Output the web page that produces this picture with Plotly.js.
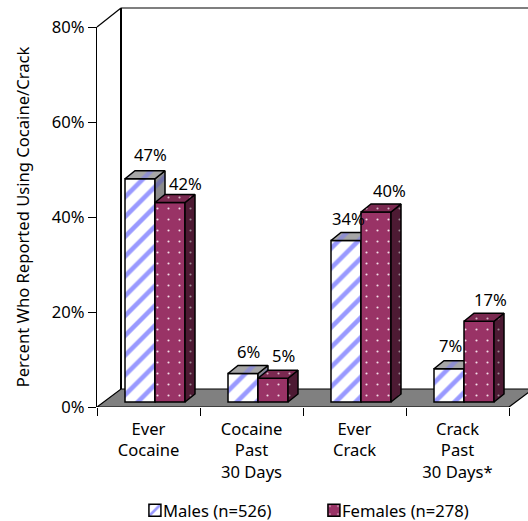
<!DOCTYPE html>
<html>
<head>
<meta charset="utf-8">
<script src="https://cdn.plot.ly/plotly-3.0.1.min.js"></script>
<style>html,body{margin:0;padding:0;background:#fff}</style>
</head>
<body>
<div id="chart" style="width:528px;height:521px"></div>
<script>
var categories = ['Ever<br>Cocaine', 'Cocaine<br>Past<br>30 Days', 'Ever<br>Crack', 'Crack<br>Past<br>30 Days*'];
var malesValues = [47, 6, 34, 7];
var femalesValues = [42, 5, 40, 17];
var yTicks = [0, 20, 40, 60, 80];
var yTickText = ['0%', '20%', '40%', '60%', '80%'];
var malesName = 'Males (n=526)';
var femalesName = 'Females (n=278)';
var yTitle = 'Percent Who Reported Using Cocaine/Crack';

// label nudges in screen pixels
var malesLabelDx = [10, 5, 2, 1];
var malesLabelDy = [-24, -22, -22, -23];
var femalesLabelDx = [15, 10, 13, 11];
var femalesLabelDy = [-19, -23, -22, -22];

// layout geometry
var W = 528, H = 521, L = 97, T = 27, FRONT = 407;
var unitX = 103, unitY = 4.75;
var plotW = W - L, plotH = FRONT - T;
var xMax = plotW / unitX;
var wallDX = 24 / unitX, wallDY = 18 / unitY;
var barW = 30 / unitX;
var barDX = 10 / unitX, barDY = 8 / unitY;
var barBase = 5 / unitY, pairShift = 6.5 / unitX;
var font = 'Noto Sans, Tahoma, sans-serif';
var fs = 16.6;

function faces(values, centerOffset) {
  var side = {x: [], y: []}, top = {x: [], y: []};
  values.forEach(function (v, i) {
    var x1 = i + 0.5 + pairShift + centerOffset - barW / 2, x2 = x1 + barW;
    var y1 = barBase, y2 = barBase + v;
    side.x.push(x2, x2 + barDX, x2 + barDX, x2, x2, null);
    side.y.push(y1, y1 + barDY, y2 + barDY, y2, y1, null);
    top.x.push(x1, x2, x2 + barDX, x1 + barDX, x1, null);
    top.y.push(y2, y2, y2 + barDY, y2 + barDY, y2, null);
  });
  return {side: side, top: top};
}
function poly(p, bg, fg, xa, ya, size, solidity, shape) {
  return {type: 'scatter', mode: 'lines', x: p.x, y: p.y, xaxis: xa, yaxis: ya,
    fill: 'toself', fillcolor: bg,
    fillpattern: {shape: shape, bgcolor: bg, fgcolor: fg, size: size, solidity: solidity},
    line: {color: '#000', width: 1.5}, showlegend: false, hoverinfo: 'skip'};
}
var mF = faces(malesValues, -barW / 2), fF = faces(femalesValues, barW / 2);
var idx = categories.map(function (c, i) { return i; });

var floor = {type: 'scatter', mode: 'lines',
  x: [0, 4, 4 + wallDX, wallDX, 0], y: [0, 0, wallDY, wallDY, 0],
  fill: 'toself', fillcolor: '#808080', line: {color: '#000', width: 1.2},
  showlegend: false, hoverinfo: 'skip'};

var malesBar = {type: 'bar', name: malesName, xaxis: 'x2', yaxis: 'y2',
  x: idx.map(function (i) { return i + 0.5 + pairShift - barW / 2; }), y: malesValues,
  base: barBase, width: barW,
  marker: {color: '#fff', line: {color: '#000', width: 1.5},
    pattern: {shape: '/', bgcolor: '#fff', fgcolor: '#9999ff', size: 14, solidity: 0.33}}};
var femalesBar = {type: 'bar', name: femalesName, xaxis: 'x3', yaxis: 'y3',
  x: idx.map(function (i) { return i + 0.5 + pairShift + barW / 2; }), y: femalesValues,
  base: barBase, width: barW,
  marker: {color: '#993366', line: {color: '#000', width: 1.5},
    pattern: {shape: '.', bgcolor: '#993366', fgcolor: '#f4dce8', size: 11, solidity: 0.03}}};

var traces = [floor,
  malesBar,
  poly(mF.side, '#8c8c8c', '#7272a8', 'x2', 'y2', 14, 0.33, '/'),
  poly(mF.top, '#a6a6a6', '#8f8fd0', 'x2', 'y2', 14, 0.33, '/'),
  femalesBar,
  poly(fF.side, '#4d1a33', '#9a8a92', 'x3', 'y3', 11, 0.03, '.'),
  poly(fF.top, '#7a2950', '#d8b8c8', 'x3', 'y3', 11, 0.03, '.')
];

function labels(values, dx, dy, xOff) {
  return values.map(function (v, i) {
    return {x: i + 0.5 + pairShift + xOff, y: barBase + v, xref: 'x', yref: 'y',
      text: v + '%', showarrow: false, xanchor: 'center', yanchor: 'middle',
      xshift: dx[i], yshift: -dy[i], font: {family: font, size: fs, color: '#000'}};
  });
}
function px(v) { return v / plotW; }
var topY = (FRONT - 8) / plotH;      // frame top in paper units
var wallX = px(24), wallBottom = 18 / plotH;
var frame = [
  [0, 1, wallX, topY],
  [wallX, topY, 1.05, topY],
  [wallX, topY, wallX, wallBottom]
].map(function (s, i) {
  return {type: 'line', xref: 'paper', yref: 'paper', x0: s[0], y0: s[1], x1: s[2], y1: s[3],
    line: {color: '#000', width: i === 2 ? 2 : 1.2}, layer: 'below'};
});

var hiddenX = {visible: false, range: [0, xMax], overlaying: 'x', fixedrange: true};
var hiddenY = {visible: false, range: [0, 80], overlaying: 'y', fixedrange: true};
function clone(o, anchor) { var c = Object.assign({}, o); c.anchor = anchor; return c; }

var layout = {
  width: W, height: H, showlegend: true, barmode: 'overlay',
  paper_bgcolor: '#fff', plot_bgcolor: 'rgba(0,0,0,0)',
  margin: {l: L, r: 0, t: T, b: H - FRONT, pad: 0, autoexpand: false},
  font: {family: font, size: fs, color: '#000'},
  xaxis: {range: [0, xMax], fixedrange: true, showgrid: false, zeroline: false, showline: false,
    tickmode: 'array', tickvals: idx.map(function (i) { return i + 0.5; }), ticktext: categories,
    ticks: '', tickfont: {family: font, size: fs}, ticklabelstandoff: 10,
    minor: {tickmode: 'array', tickvals: [0, 1, 2, 3, 4], ticks: 'outside', ticklen: 8, tickwidth: 1, tickcolor: '#000', showgrid: false}},
  yaxis: {range: [0, 80], fixedrange: true, showgrid: false, zeroline: false, showline: true,
    linecolor: '#000', linewidth: 1.2,
    tickmode: 'array', tickvals: yTicks, ticktext: yTickText, ticks: 'outside', ticklen: 8, tickcolor: '#000',
    tickfont: {family: font, size: fs},
    title: {text: yTitle, standoff: 17, font: {family: font, size: fs}}},
  xaxis2: clone(hiddenX, 'y2'), yaxis2: clone(hiddenY, 'x2'),
  xaxis3: clone(hiddenX, 'y3'), yaxis3: clone(hiddenY, 'x3'),
  legend: {orientation: 'h', x: 0.088, y: -0.226, xanchor: 'left', yanchor: 'top',
    bgcolor: 'rgba(0,0,0,0)', font: {family: font, size: fs},
    itemwidth: 30, entrywidth: 134, entrywidthmode: 'pixels', traceorder: 'normal'},
  shapes: frame,
  annotations: labels(malesValues, malesLabelDx, malesLabelDy, -barW / 2)
    .concat(labels(femalesValues, femalesLabelDx, femalesLabelDy, barW / 2))
};
Plotly.newPlot('chart', traces, layout, {displayModeBar: false, staticPlot: true}).then(function () {
  // tighten the gap between legend swatch and legend text
  document.querySelectorAll('.legendtext').forEach(function (t) {
    t.setAttribute('x', parseFloat(t.getAttribute('x')) - 12);
  });
});
</script>
</body>
</html>
